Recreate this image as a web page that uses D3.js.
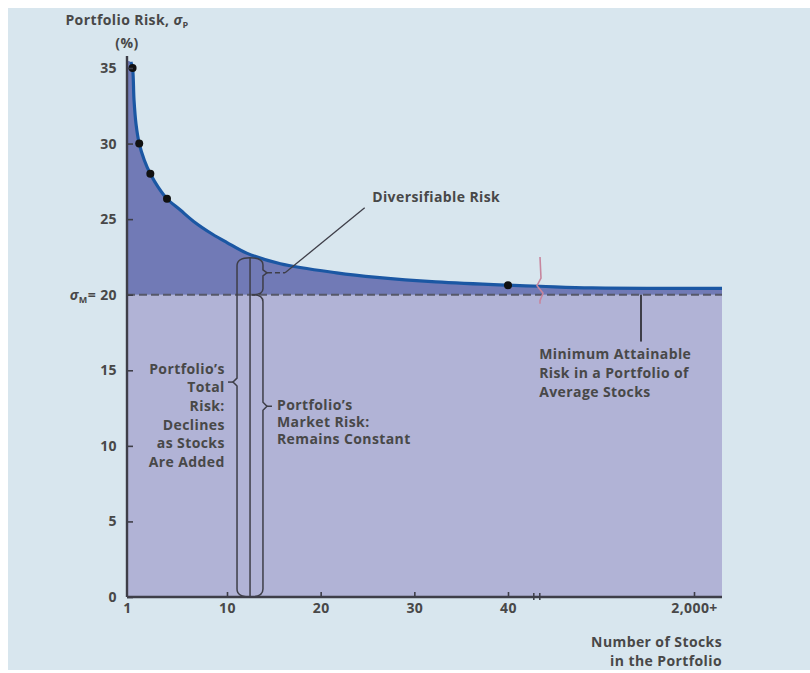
<!DOCTYPE html>
<html><head><meta charset="utf-8">
<script src="https://cdn.jsdelivr.net/npm/d3@7"></script>
<style>
html,body{margin:0;padding:0;background:#fff;}
svg{display:block;}
text{font-family:"Open Sans","Liberation Sans",sans-serif;font-weight:700;fill:#484848;letter-spacing:0.4px;}
</style></head>
<body>
<script>
// ---- data ----
const stocks = [1.0, 1.35, 1.5, 1.63, 1.81, 2.1, 2.56, 3.1, 3.82, 4.6, 5.8, 7.0, 8.7, 10, 12.1, 15.7, 21.7, 26, 32.3, 40, 44, 700, 2000, 2400];
const risk   = [35.5, 35.4, 35.0, 32.9, 31.3, 30.0, 28.9, 28.0, 27.1, 26.35, 25.6, 24.85, 24.0, 23.45, 22.75, 22.05, 21.45, 21.15, 20.85, 20.63, 20.56, 20.45, 20.42, 20.42];
const dotStocks = [1.5, 2.1, 3.1, 4.6, 40];
const dotRisk   = [35.0, 30.0, 28.0, 26.35, 20.63];
const marketRisk = 20;
const yTicks = [0, 5, 10, 15, 20, 25, 30, 35];
const xTicks = [1, 10, 20, 30, 40, 2000];
const xTickLabels = ["1", "10", "20", "30", "40", "2,000+"];

const W = 810, H = 673;
const FS = "14px";
const svg = d3.select("body").append("svg").attr("width", W).attr("height", H);
svg.append("rect").attr("x", 8).attr("y", 8).attr("width", W - 8).attr("height", H - 11).attr("fill", "#d8e6ee");

const x = d3.scaleLinear().domain([1, 10, 40, 44, 2000, 2400]).range([127, 227, 508, 540, 694, 722]);
const y = d3.scaleLinear().domain([0, 35]).range([597, 68]);

const curve = stocks.map((s, i) => ({n: s, r: risk[i]}));
const smooth = d3.curveCatmullRom.alpha(0.5);

// market risk region
svg.append("rect")
  .attr("x", x(1)).attr("y", y(marketRisk))
  .attr("width", x(2400) - x(1)).attr("height", y(0) - y(marketRisk))
  .attr("fill", "#b1b3d6");

// diversifiable risk region
svg.append("path").datum(curve)
  .attr("fill", "#717ab6")
  .attr("d", d3.area().x(d => x(d.n)).y0(y(marketRisk)).y1(d => y(d.r)).curve(smooth));

// dashed market-risk line
svg.append("line")
  .attr("x1", x(1)).attr("x2", x(2400)).attr("y1", y(marketRisk)).attr("y2", y(marketRisk))
  .attr("stroke", "#56586a").attr("stroke-width", 2).attr("stroke-dasharray", "8,4");

// curve
svg.append("path").datum(curve.slice(1))
  .attr("fill", "none").attr("stroke", "#1b57a3").attr("stroke-width", 3.2)
  .attr("d", d3.line().x(d => x(d.n)).y(d => y(d.r)).curve(smooth));

// dots
svg.selectAll("circle.dot").data(dotStocks.map((s, i) => ({n: s, r: dotRisk[i]})))
  .enter().append("circle").attr("class", "dot")
  .attr("cx", d => x(d.n)).attr("cy", d => y(d.r)).attr("r", 4).attr("fill", "#111");

// break mark on curve
const bx = x(44);
svg.append("path")
  .attr("d", `M${bx},${y(22.5)} L${bx+1},${y(21.1)} L${bx-3},${y(20.6)} L${bx+3},${y(20.1)} L${bx},${y(19.6)} L${bx},${y(19.4)}`)
  .attr("fill", "none").attr("stroke", "#c7869e").attr("stroke-width", 1.6);

// axes
const axCol = "#3e3e48";
const yAxis = svg.append("g").attr("transform", `translate(${x(1)},0)`)
  .call(d3.axisLeft(y).tickValues(yTicks).tickSizeInner(-6).tickSizeOuter(0).tickPadding(10));
yAxis.select(".domain").remove();
yAxis.selectAll(".tick line").attr("stroke", axCol).attr("stroke-width", 1.6);
yAxis.selectAll(".tick text").style("font-size", FS).style("font-family", "'Open Sans',sans-serif").style("font-weight", 700).attr("fill", "#484848");
yAxis.selectAll(".tick").filter(d => d === 20).select("text").each(function() {
  const t = d3.select(this); t.text("");
  t.append("tspan").text("σ").style("font-style", "italic");
  t.append("tspan").text("M").attr("dy", "3").style("font-size", "9px");
  t.append("tspan").text("= 20").attr("dy", "-3");
});
svg.append("line").attr("x1", x(1)).attr("x2", x(1)).attr("y1", y(0)).attr("y2", y(35.8))
  .attr("stroke", axCol).attr("stroke-width", 2.4);

const xAxis = svg.append("g").attr("transform", `translate(0,${y(0)})`)
  .call(d3.axisBottom(x).tickValues(xTicks).tickFormat((d, i) => xTickLabels[i]).tickSizeInner(-5).tickSizeOuter(0).tickPadding(6));
xAxis.select(".domain").remove();
xAxis.selectAll(".tick line").attr("stroke", axCol).attr("stroke-width", 1.6).filter(d => d === 1).remove();
xAxis.selectAll(".tick text").style("font-size", FS).style("font-family", "'Open Sans',sans-serif").style("font-weight", 700).attr("fill", "#484848");
svg.append("line").attr("x1", x(1)).attr("x2", x(2400)).attr("y1", y(0)).attr("y2", y(0))
  .attr("stroke", axCol).attr("stroke-width", 2.4);
[x(43.6) - 3, x(43.6) + 3].forEach(px => {
  svg.append("line").attr("x1", px).attr("x2", px).attr("y1", y(0) - 4).attr("y2", y(0) + 3)
    .attr("stroke", axCol).attr("stroke-width", 1.5);
});

// axis titles
const yt = svg.append("text").attr("x", x(1)).attr("y", 25).attr("text-anchor", "middle").style("font-size", FS);
yt.append("tspan").text("Portfolio Risk, ");
yt.append("tspan").text("σ").style("font-style", "italic");
yt.append("tspan").text("P").attr("dy", 3).style("font-size", "9px");
svg.append("text").attr("x", x(1)).attr("y", 48).attr("text-anchor", "middle").style("font-size", FS).text("(%)");
svg.append("text").attr("x", x(2400)).attr("y", 647).attr("text-anchor", "end").style("font-size", FS).text("Number of Stocks");
svg.append("text").attr("x", x(2400)).attr("y", 666).attr("text-anchor", "end").style("font-size", FS).text("in the Portfolio");

// braces
const bL = x(11.07), bM = x(12.46), bR = x(13.84);
const topB = y(22.45), midB = y(marketRisk), botB = y(0);
const pTot = y(14.22), pDiv = y(21.45), pMkt = y(12.62);
const br = svg.append("g").attr("fill", "none").attr("stroke", "#3e3e48").attr("stroke-width", 1.5);
br.append("path").attr("d", `M${bM},${topB} Q${bL},${topB} ${bL},${topB+8} L${bL},${pTot-4} L${bL-4},${pTot} L${bL},${pTot+4} L${bL},${botB-8} Q${bL},${botB} ${bM},${botB}`);
br.append("path").attr("d", `M${bM},${topB} L${bM},${botB}`);
br.append("path").attr("d", `M${bM},${topB} Q${bR},${topB} ${bR},${topB+7} L${bR},${pDiv-3} L${bR+4},${pDiv} L${bR},${pDiv+3} L${bR},${midB-6} Q${bR},${midB} ${bM+2},${midB}`);
br.append("path").attr("d", `M${bM+2},${midB} Q${bR},${midB} ${bR},${midB+7} L${bR},${pMkt-4} L${bR+4},${pMkt} L${bR},${pMkt+4} L${bR},${botB-8} Q${bR},${botB} ${bM},${botB}`);
// short leaders
br.append("line").attr("x1", bL - 9).attr("x2", bL - 4).attr("y1", pTot).attr("y2", pTot);
br.append("line").attr("x1", bR + 4).attr("x2", bR + 9).attr("y1", pMkt).attr("y2", pMkt);
// diversifiable leader
br.append("line").attr("x1", bR + 4).attr("x2", x(16.2)).attr("y1", pDiv).attr("y2", pDiv).attr("stroke-dasharray", "5,3");
br.append("line").attr("x1", x(16.2)).attr("y1", pDiv).attr("x2", x(24.7)).attr("y2", y(25.75)).attr("stroke-width", 1.3);
// minimum attainable leader
br.append("line").attr("x1", x(1327)).attr("x2", x(1327)).attr("y1", y(marketRisk)).attr("y2", y(16.9)).attr("stroke-width", 2);

// annotation texts
function block(lines, xp, y0, dy, anchor) {
  const t = svg.append("text").attr("text-anchor", anchor).style("font-size", FS);
  lines.forEach((l, i) => t.append("tspan").attr("x", xp).attr("y", y0 + i * dy).text(l));
}
block(["Diversifiable Risk"], x(25.5), y(26.47) + 5, 0, "start");
block(["Portfolio\u2019s", "Total", "Risk:", "Declines", "as Stocks", "Are Added"], x(9.8), 373.5, 18.7, "end");
block(["Portfolio\u2019s", "Market Risk:", "Remains Constant"], bR + 14, 409.5, 17.4, "start");
block(["Minimum Attainable", "Risk in a Portfolio of", "Average Stocks"], x(43.9), 358.5, 19, "start");
</script>
</body></html>
